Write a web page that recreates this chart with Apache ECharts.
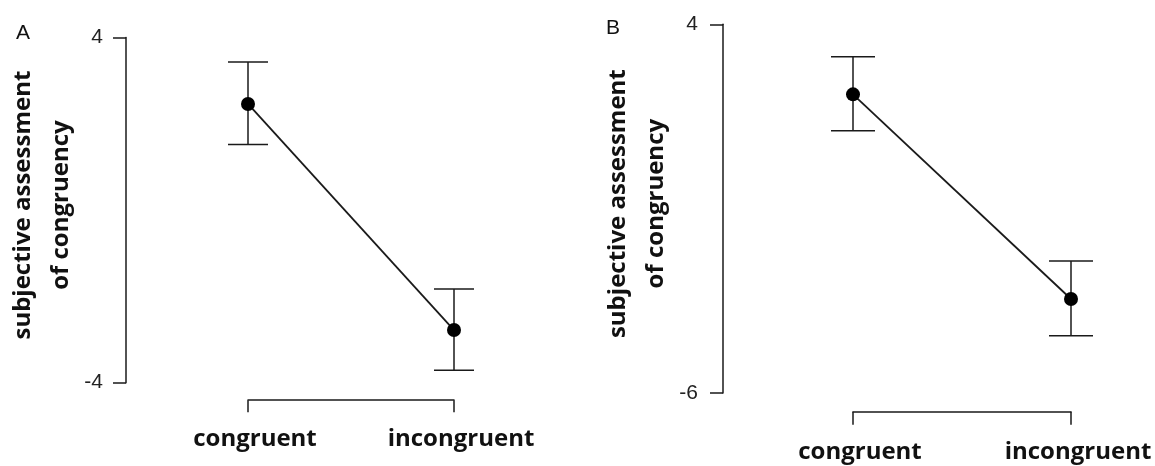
<!DOCTYPE html>
<html>
<head>
<meta charset="utf-8">
<script src="https://cdn.jsdelivr.net/npm/echarts@6/dist/echarts.min.js"></script>
<style>
html,body{margin:0;padding:0;background:#fff;}
#chart{width:1155px;height:466px;}
</style>
</head>
<body>
<div id="chart"></div>
<script>
// ---- data ----
const categories = ['congruent', 'incongruent'];
const meanA = [2.46, -2.78];
const lowA = [1.52, -3.71];
const highA = [3.43, -1.83];
const meanB = [2.10, -3.45];
const lowB = [1.11, -4.45];
const highB = [3.12, -2.42];
const yTicksA = [-4, 4];
const yTicksB = [-6, 4];
const panelLabels = ['A', 'B'];
const yTitle = 'subjective assessment\nof congruency';

// ---- chart ----
const INK = '#1a1a1a';
const chart = echarts.init(document.getElementById('chart'));

function errData(low, high) {
  return categories.map((c, i) => [i, low[i], high[i]]);
}
function errRender(capHalf) {
  return function (params, api) {
    const x = api.value(0);
    const pHi = api.coord([x, api.value(2)]);
    const pLo = api.coord([x, api.value(1)]);
    const st = { stroke: INK, lineWidth: 1.5 };
    return {
      type: 'group',
      children: [
        { type: 'line', shape: { x1: pHi[0], y1: pHi[1], x2: pLo[0], y2: pLo[1] }, style: st },
        { type: 'line', shape: { x1: pHi[0] - capHalf, y1: pHi[1], x2: pHi[0] + capHalf, y2: pHi[1] }, style: st },
        { type: 'line', shape: { x1: pLo[0] - capHalf, y1: pLo[1], x2: pLo[0] + capHalf, y2: pLo[1] }, style: st }
      ]
    };
  };
}

function xAxisCfg(idx, offset, tickLen, margin) {
  return {
    type: 'category', gridIndex: idx, data: categories, boundaryGap: false,
    position: 'bottom', offset: offset,
    axisLine: { onZero: false, lineStyle: { color: INK, width: 1.5 } },
    axisTick: { length: tickLen, lineStyle: { color: INK, width: 1.5 } },
    axisLabel: {
      margin: margin, color: '#111', fontFamily: 'Open Sans', fontWeight: 'bold', fontSize: 24,
      padding: [0, 0, 0, 14]
    },
    splitLine: { show: false }
  };
}
function yAxisCfg(idx, ticks, offset, margin, nameGap) {
  return {
    type: 'value', gridIndex: idx, min: ticks[0], max: ticks[ticks.length - 1],
    position: 'left', offset: offset,
    axisLine: { show: true, onZero: false, lineStyle: { color: INK, width: 1.5 } },
    axisTick: { show: true, length: 13, customValues: ticks, lineStyle: { color: INK, width: 1.5 } },
    axisLabel: { customValues: ticks, margin: margin, color: '#222', fontFamily: 'Liberation Sans', fontSize: 21 },
    splitLine: { show: false },
    name: yTitle, nameLocation: 'middle', nameRotate: 90, nameGap: nameGap,
    nameTextStyle: {
      fontFamily: 'Open Sans', fontWeight: 'bold', fontSize: 24, lineHeight: 38, color: '#111',
      align: 'center', padding: [0, 0, 0, 10]
    }
  };
}

const option = {
  backgroundColor: '#fff',
  animation: false,
  title: [
    { text: panelLabels[0], left: 11, top: 18, textStyle: { fontFamily: 'Liberation Sans', fontWeight: 'normal', fontSize: 21, color: '#111' } },
    { text: panelLabels[1], left: 601, top: 13, textStyle: { fontFamily: 'Liberation Sans', fontWeight: 'normal', fontSize: 21, color: '#111' } }
  ],
  grid: [
    { left: 248, top: 37.5, width: 206, height: 345.2 },
    { left: 853, top: 24.3, width: 218, height: 368.7 }
  ],
  xAxis: [
    xAxisCfg(0, 17.5, 12, 27),
    xAxisCfg(1, 18.7, 13, 28)
  ],
  yAxis: [
    yAxisCfg(0, yTicksA, 122, 23, 38),
    yAxisCfg(1, yTicksB, 130, 25, 47)
  ],
  series: [
    {
      type: 'custom', xAxisIndex: 0, yAxisIndex: 0, z: 1, clip: false,
      renderItem: errRender(20), data: errData(lowA, highA)
    },
    {
      type: 'line', xAxisIndex: 0, yAxisIndex: 0, z: 3, clip: false,
      data: meanA, symbol: 'circle', symbolSize: 14, showSymbol: true,
      lineStyle: { color: INK, width: 1.8 }, itemStyle: { color: '#000' }
    },
    {
      type: 'custom', xAxisIndex: 1, yAxisIndex: 1, z: 1, clip: false,
      renderItem: errRender(22), data: errData(lowB, highB)
    },
    {
      type: 'line', xAxisIndex: 1, yAxisIndex: 1, z: 3, clip: false,
      data: meanB, symbol: 'circle', symbolSize: 14, showSymbol: true,
      lineStyle: { color: INK, width: 1.8 }, itemStyle: { color: '#000' }
    }
  ]
};
chart.setOption(option);
</script>
</body>
</html>
